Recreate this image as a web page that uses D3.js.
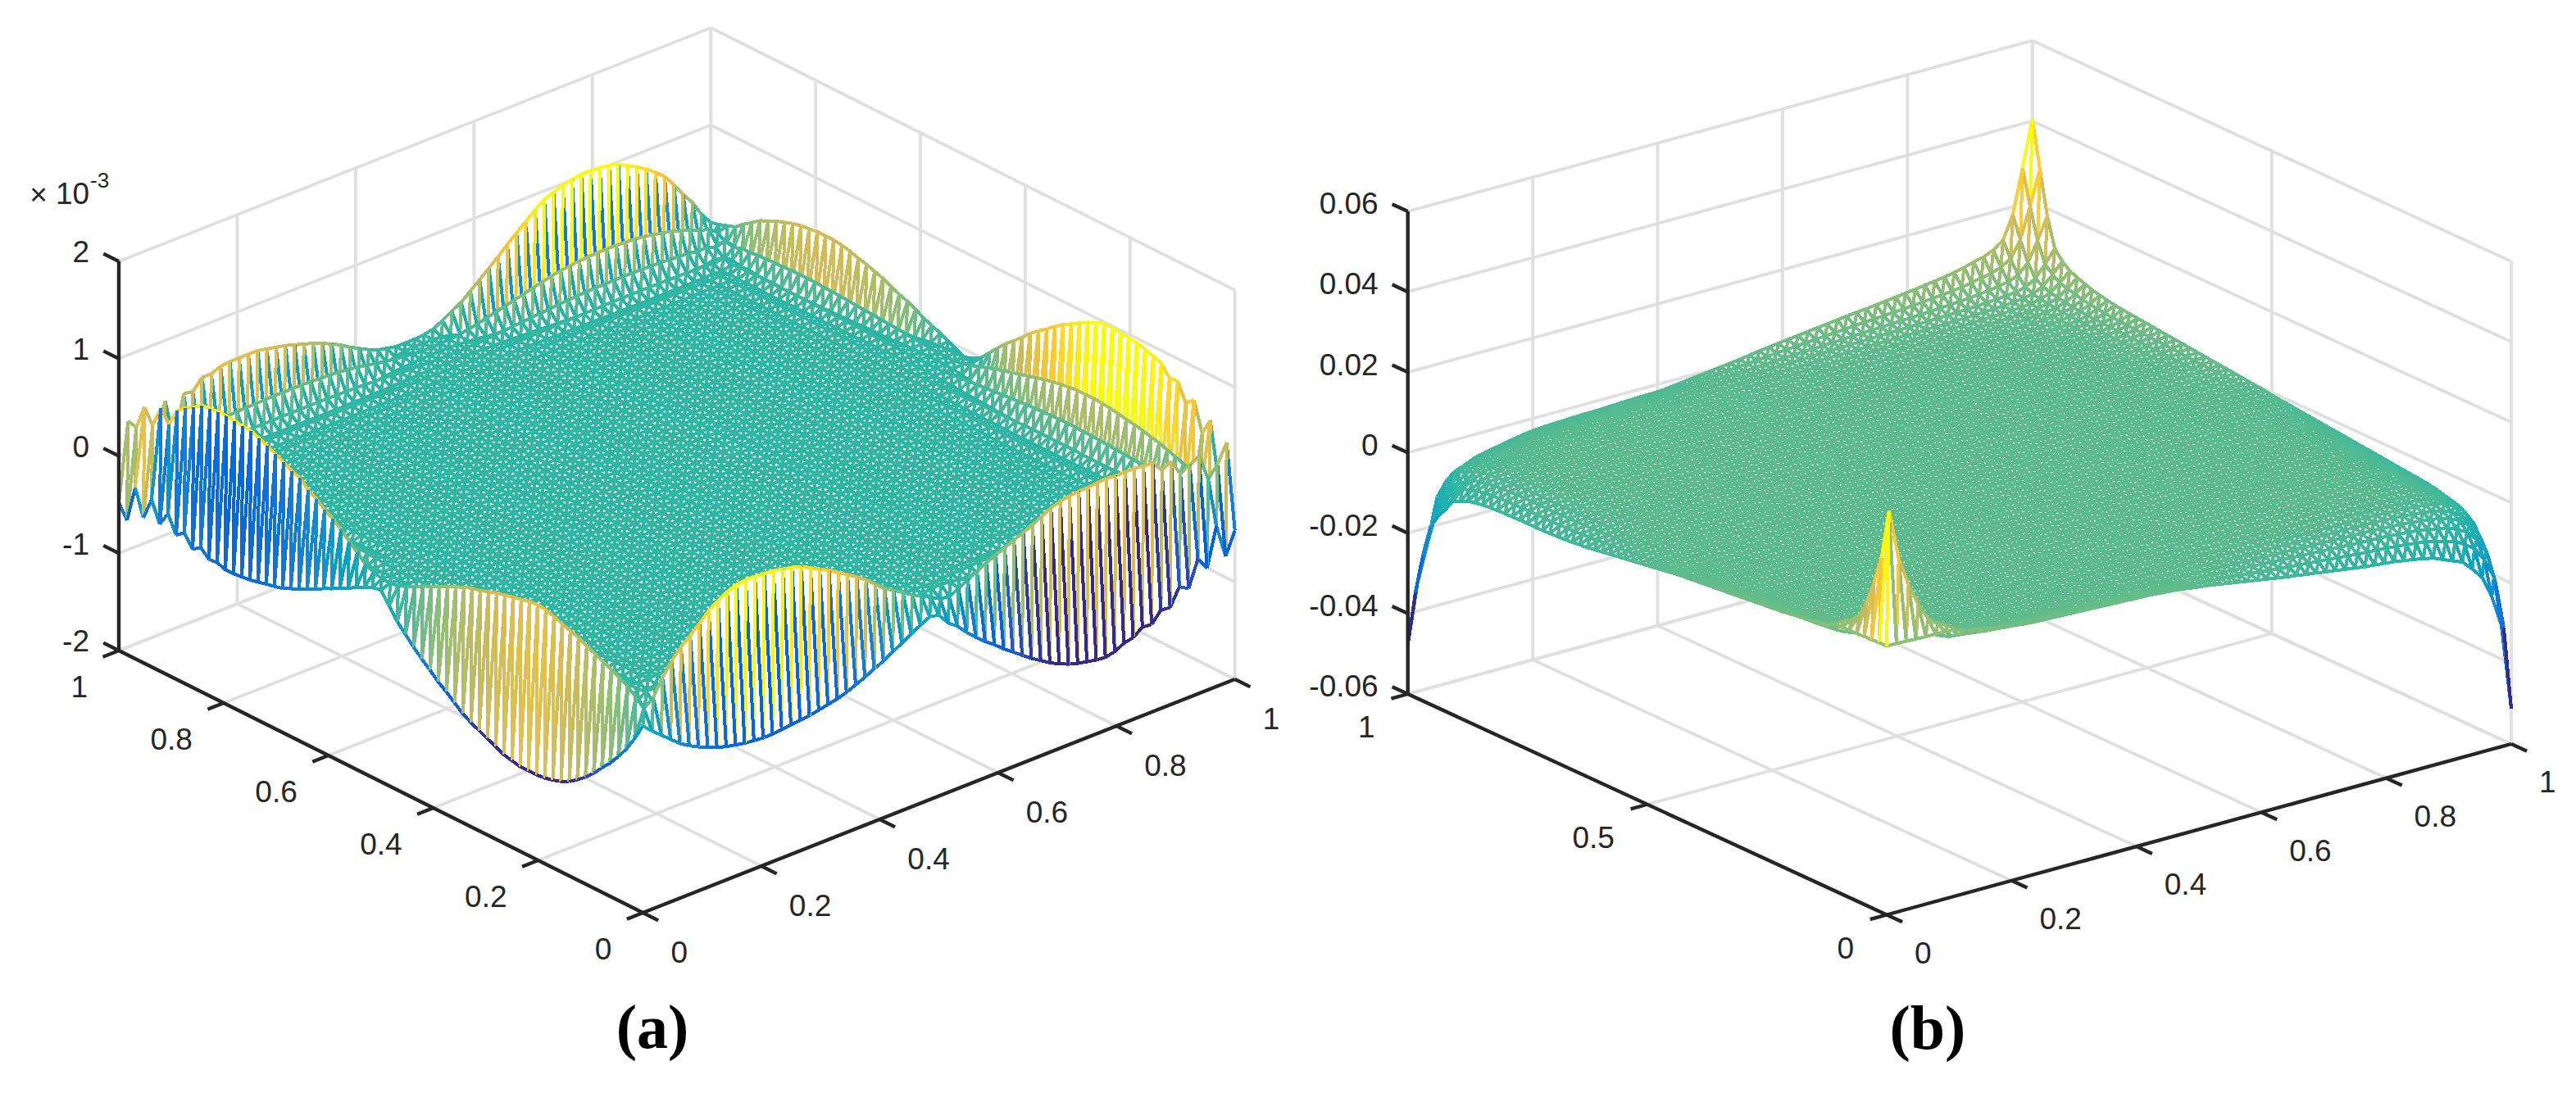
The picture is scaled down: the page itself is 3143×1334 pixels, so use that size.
<!DOCTYPE html>
<html>
<head>
<meta charset="utf-8">
<script src="https://d3js.org/d3.v7.min.js"></script>
<style>
  body { margin: 0; background: #fff; }
  text { font-family: "Liberation Sans", Arial, sans-serif; fill: #262626; }
</style>
</head>
<body>
<div id="my_dataviz"></div>
<script>

// ---- panel (a) heights, x 10^-3, one value per mesh vertex along each edge
// front edge (y = 0), x going 0 -> 1
var aFrontOuter = [-.08,-.17,-.25,-.33,-.41,-.47,-.52,-.56,-.60,-.63,
  -.65,-.67,-.68,-.69,-.69,-.68,-.67,-.66,-.65,-.63,
  -.61,-.59,-.56,-.52,-.48,-.43,-.39,-.33,-.28,-.22,
  -.17,-.12,-.14,-.26,-.33,-.43,-.52,-.60,-.67,-.75,
  -.82,-.89,-.96,-1.02,-1.08,-1.13,-1.17,-1.20,-1.22,-1.24,
  -1.25,-1.23,-1.18,-1.16,-1.09,-1.10,-.99,-1.00,-.825,-.88,
  -.615,-.745,-.35,-.70,-.47];
var aFrontInner = [0,0,.10,.26,.40,.50,.58,.67,.76,.83,
  .88,.92,.93,.93,.92,.91,.89,.87,.84,.79,
  .74,.69,.63,.57,.51,.44,.36,.28,.22,.16,
  .10,.05,0,-.05,-.07,-.02,.03,.08,.13,.17,
  .21,.25,.29,.33,.38,.43,.46,.48,.49,.49,
  .50,.51,.50,.50,.50,.49,.48,.37,.42,.26,
  .30,.38,.06,.25,0];
// left edge (x = 0), y going 0 -> 1
var aLeftOuter = [0,-.25,-.40,-.52,-.63,-.72,-.82,-.90,-.97,-1.03,
  -1.07,-1.10,-1.12,-1.13,-1.13,-1.13,-1.11,-1.09,-1.05,-1.01,
  -.97,-.93,-.88,-.81,-.74,-.68,-.60,-.53,-.45,-.36,
  -.27,-.15,-.03,-.05,-.09,-.13,-.18,-.22,-.27,-.31,
  -.36,-.40,-.44,-.48,-.52,-.54,-.56,-.58,-.60,-.61,
  -.62,-.62,-.59,-.60,-.52,-.58,-.45,-.52,-.34,-.49,
  -.28,-.51,-.24,-.62,-.48];
var aLeftInner = [0,.02,.10,.16,.21,.25,.29,.33,.37,.41,
  .44,.47,.50,.53,.54,.53,.51,.49,.47,.45,
  .42,.39,.37,.34,.30,.26,.22,.18,.14,.09,
  .05,.02,0,.01,.03,.07,.15,.22,.30,.37,
  .42,.49,.54,.62,.65,.70,.74,.78,.82,.85,
  .86,.87,.88,.88,.87,.86,.80,.75,.68,.50,
  .62,.40,.55,.30,0];
// back edge (y = 1), x going 0 -> 1
var aBackOuter = [0,.32,-.18,.34,0,.38,-.09,.38,.36,.47,
  .47,.51,.52,.52,.52,.52,.50,.48,.46,.43,
  .40,.37,.33,.29,.24,.18,.13,.08,.04,.02,
  0,0,0,.01,.03,.08,.14,.19,.27,.35,
  .43,.51,.60,.68,.76,.84,.91,.95,.98,1.00,
  1.02,1.02,1.01,1.00,.97,.92,.87,.81,.74,.66,
  .54,.40,.28,.12,0];
var aBackInner = [0,0,-.02,-.05,-.08,-.10,-.12,-.14,-.16,-.18,
  -.20,-.21,-.22,-.22,-.23,-.23,-.23,-.23,-.23,-.23,
  -.22,-.21,-.20,-.18,-.16,-.13,-.10,-.07,-.05,-.03,
  -.01,0,0,0,-.01,-.03,-.06,-.09,-.13,-.17,
  -.21,-.25,-.29,-.33,-.37,-.41,-.44,-.46,-.48,-.49,
  -.50,-.50,-.50,-.49,-.48,-.46,-.43,-.40,-.36,-.31,
  -.26,-.20,-.13,-.06,0];
// right edge (x = 1), y going 0 -> 1
var aRightOuter = [0,.39,-.04,.53,.36,.66,.585,.77,.76,.87,
  .90,.93,.95,.96,.97,.98,.98,.95,.91,.86,
  .81,.76,.70,.63,.57,.50,.42,.34,.27,.18,
  .09,0,-.05,-.08,-.04,0,.04,.08,.11,.16,
  .20,.23,.27,.31,.34,.37,.39,.42,.44,.45,
  .45,.45,.44,.43,.41,.38,.35,.31,.27,.21,
  .15,.08,.05,.02,0];
var aRightInner = [0,-.05,-.10,-.15,-.20,-.25,-.30,-.35,-.38,-.42,
  -.45,-.47,-.50,-.52,-.54,-.55,-.55,-.55,-.53,-.51,
  -.48,-.45,-.41,-.37,-.33,-.29,-.25,-.21,-.16,-.11,
  -.06,-.02,0,0,0,-.01,-.02,-.03,-.05,-.06,
  -.07,-.08,-.09,-.10,-.11,-.12,-.13,-.14,-.14,-.15,
  -.15,-.15,-.15,-.14,-.14,-.13,-.12,-.11,-.09,-.07,
  -.05,-.03,-.02,-.01,0];
// share of the inner row left in the rows behind it
var aFrontFade = [-.25,.1,-.04,.02];
var aBackFade = [-.6,.36,-.2,.12,-.07,.04,-.02,.01];

// ---- panel (b) heights along the edges
var bFront = [.0068,.0068,.0067,.0066,.0065,.0065,.0064,.0063,.0052,.0048,
  .0044,.004,.0037,.0033,.003,.0028,.0027,.0026,.0025,.0024,
  .0023,.0022,.0021,.002,.0019,.0018,.0017,.0016,.0014,.0012,
  .001,.0006,.0003,0,-.0004,-.0008,-.0012,-.0016,-.002,-.0024,
  -.0028,-.0032,-.0035,-.0039,-.0042,-.0046,-.0049,-.0053,-.0056,-.006,
  -.0062,-.0065,-.0067,-.007,-.0072,-.0075,-.0077,-.0082,-.0087,-.0089,
  -.01,-.0104,-.0123,-.0141,-.0256];
var bLeft = [.0068,.0068,.0067,.0066,.0065,.0065,.0064,.0063,.005,.0048,
  .0045,.0042,.004,.0037,.0034,.0032,.003,.0028,.0026,.0024,
  .0022,.002,.0018,.0016,.0014,.0012,.001,.0008,.0006,.0003,
  0,-.0003,-.0006,-.0009,-.0012,-.0015,-.0018,-.0021,-.0024,-.0027,
  -.003,-.0032,-.0034,-.0036,-.0037,-.0038,-.0039,-.0039,-.0039,-.0039,
  -.004,-.004,-.0041,-.0041,-.0042,-.0043,-.0045,-.005,-.0053,-.0075,
  -.0089,-.0103,-.0149,-.0192,-.0239];
var bBack = [-.0239,-.0182,-.0149,-.0073,-.0059,-.006,-.0051,-.0048,-.0045,-.0042,
  -.0039,-.0036,-.0033,-.003,-.0028,-.0027,-.0026,-.0025,-.0024,-.0024,
  -.0023,-.0022,-.0021,-.002,-.0019,-.0019,-.0018,-.0015,-.0012,-.0009,
  -.0006,-.0003,0,.0003,.0006,.001,.0014,.0017,.002,.0023,
  .0026,.0029,.0032,.0035,.0038,.0041,.0044,.0046,.0049,.0052,
  .0055,.0058,.0061,.0064,.0066,.0068,.007,.0072,.0075,.0075,
  .0075,.0075,.0103,.0164,.0203];
var bRight = [-.0256,-.016,-.0128,-.0104,-.0091,-.0069,-.0062,-.0059,-.0056,-.0053,
  -.005,-.0048,-.0047,-.0045,-.0043,-.0041,-.0039,-.0037,-.0035,-.0033,
  -.0031,-.0029,-.0027,-.0025,-.0023,-.0021,-.0019,-.0017,-.0015,-.0013,
  -.0011,-.0009,-.0007,-.0004,-.0002,0,.0002,.0004,.0006,.0008,
  .001,.0012,.0014,.0016,.0018,.002,.0022,.0024,.0026,.0028,
  .003,.0032,.0034,.0036,.0038,.004,.0042,.0045,.0048,.005,
  .0055,.006,.0103,.0164,.0203];
var bFade = [1,.62,.38,.24,.15,.1,.07,.05,.03,.02,.01,.005];
// the spike next to the front corner, read directly, i and j from 0 to 7
var bFrontPeak = [
  [.0068,.0068,.0067,.0066,.0065,.0065,.0064,.0063],
  [.0068,.039,.0264,.0193,.0136,.0095,.0075,.0065],
  [.0067,.0264,.0218,.017,.0125,.0095,.0075,.006],
  [.0066,.0193,.017,.0136,.0105,.0085,.0065,.0055],
  [.0065,.0136,.0125,.0105,.0085,.007,.0055,.0045],
  [.0065,.0095,.0095,.0085,.007,.0055,.0045,.0035],
  [.0064,.0075,.0075,.0065,.0055,.0045,.0035,.0025],
  [.0063,.0065,.006,.0055,.0045,.0035,.0025,.002]];

// ---- ticks
var aXTicks = [0,.2,.4,.6,.8,1], aXLabels = ["0","0.2","0.4","0.6","0.8","1"];
var aYTicks = [0,.2,.4,.6,.8,1], aYLabels = ["0","0.2","0.4","0.6","0.8","1"];
var aZTicks = [-2,-1,0,1,2], aZLabels = ["-2","-1","0","1","2"];
var bXTicks = [0,.2,.4,.6,.8,1], bXLabels = ["0","0.2","0.4","0.6","0.8","1"];
var bYTicks = [0,.5,1], bYLabels = ["0","0.5","1"];
var bZTicks = [-.06,-.04,-.02,0,.02,.04,.06], bZLabels = ["-0.06","-0.04","-0.02","0","0.02","0.04","0.06"];

// parula, sampled
var parula = ["#352a87","#2059cf","#035fe1","#1481d6","#06a0c6","#2eb7a4","#87bf77","#d1bb59","#fec832","#f9fb0e"];
var parulaPos = [0,.095,.127,.254,.38,.5,.62,.75,.87,1];

var width = 3143, height = 1334;
var svg = d3.select("#my_dataviz").append("svg")
    .attr("width", width).attr("height", height)
    .style("display", "block");

var colorRamp = d3.scaleLinear().domain(parulaPos).range(parula);

function drawPanel(c) {
  var g = svg.append("g");

  // oblique projection, every screen offset comes from one of these scales
  var xToSx = d3.scaleLinear().domain([0,1]).range([0, c.right[0]-c.front[0]]);
  var xToSy = d3.scaleLinear().domain([0,1]).range([0, c.right[1]-c.front[1]]);
  var yToSx = d3.scaleLinear().domain([0,1]).range([0, c.left[0]-c.front[0]]);
  var yToSy = d3.scaleLinear().domain([0,1]).range([0, c.left[1]-c.front[1]]);
  var zToSy = d3.scaleLinear().domain(c.zDomain).range([0, -c.zHeight]);
  function px(x,y) { return c.front[0] + xToSx(x) + yToSx(y); }
  function py(x,y,z) { return c.front[1] + xToSy(x) + yToSy(y) + zToSy(z); }

  function seg(x1,y1,z1,x2,y2,z2,color,w) {
    g.append("line")
      .attr("x1",px(x1,y1)).attr("y1",py(x1,y1,z1))
      .attr("x2",px(x2,y2)).attr("y2",py(x2,y2,z2))
      .attr("stroke",color).attr("stroke-width",w);
  }

  var zMin = c.zDomain[0], zMax = c.zDomain[1];

  // walls and floor grid
  c.xTicks.forEach(function(t) {
    seg(t,0,zMin,t,1,zMin,"#dfdfdf",3.8);
    seg(t,1,zMin,t,1,zMax,"#dfdfdf",3.8);
  });
  c.yTicks.forEach(function(t) {
    seg(0,t,zMin,1,t,zMin,"#dfdfdf",3.8);
    seg(1,t,zMin,1,t,zMax,"#dfdfdf",3.8);
  });
  c.zTicks.forEach(function(t) {
    seg(0,1,t,1,1,t,"#dfdfdf",3.8);
    seg(1,0,t,1,1,t,"#dfdfdf",3.8);
  });

  // mesh, far cells first so the white facets hide what is behind them
  var n = c.cells;
  var color = function(z) { return colorRamp(c.colorT(z)); };
  var mesh = g.append("g").attr("shape-rendering","crispEdges");
  function sx(i,j) { return px(i/n,j/n); }
  function sy(i,j) { return py(i/n,j/n,c.height(i,j)); }
  function tri(a,b,d) {
    mesh.append("path")
      .attr("d","M"+sx(a[0],a[1])+","+sy(a[0],a[1])+"L"+sx(b[0],b[1])+","+sy(b[0],b[1])+"L"+sx(d[0],d[1])+","+sy(d[0],d[1])+"Z")
      .attr("fill","#fff");
    [[a,b],[b,d],[d,a]].forEach(function(e) {
      // colour of an edge is the colour of its first vertex, unless the panel says otherwise
      var from = c.edgeFrom ? c.edgeFrom(e[0],e[1]) : e[0];
      mesh.append("line")
        .attr("x1",sx(e[0][0],e[0][1])).attr("y1",sy(e[0][0],e[0][1]))
        .attr("x2",sx(e[1][0],e[1][1])).attr("y2",sy(e[1][0],e[1][1]))
        .attr("stroke",color(c.height(from[0],from[1])))
        .attr("stroke-width",c.meshWidth);
    });
  }
  for (var i = n-1; i >= 0; i--) {
    for (var j = n-1; j >= 0; j--) {
      tri([i,j],[i+1,j+1],[i,j+1]);
      tri([i,j],[i+1,j],[i+1,j+1]);
    }
  }

  // the three black axes with their ticks
  var axisColor = "#262626";
  seg(0,0,zMin,1,0,zMin,axisColor,4.4);
  seg(0,0,zMin,0,1,zMin,axisColor,4.4);
  seg(0,1,zMin,0,1,zMax,axisColor,4.4);

  var tickLen = 21;
  var xLen = Math.hypot(c.right[0]-c.front[0], c.right[1]-c.front[1]);
  var yLen = Math.hypot(c.left[0]-c.front[0], c.left[1]-c.front[1]);
  var xUnit = [(c.right[0]-c.front[0])/xLen, (c.right[1]-c.front[1])/xLen];
  var yUnit = [(c.left[0]-c.front[0])/yLen, (c.left[1]-c.front[1])/yLen];

  function tick(x,y,z,dir) {
    var a = px(x,y), b = py(x,y,z);
    g.append("line").attr("x1",a).attr("y1",b)
      .attr("x2",a+dir[0]*tickLen).attr("y2",b+dir[1]*tickLen)
      .attr("stroke",axisColor).attr("stroke-width",4.4);
  }
  function label(x,y,anchor,s) {
    g.append("text").attr("x",x).attr("y",y).attr("dy",".36em")
      .attr("text-anchor",anchor).style("font-size",c.fontSize+"px").text(s);
  }

  c.xTicks.forEach(function(t,k) {
    tick(t,0,zMin,[-yUnit[0],-yUnit[1]]);
    label(px(t,0)+c.xOff[0], py(t,0,zMin)+c.xOff[1], "start", c.xLabels[k]);
  });
  c.yTicks.forEach(function(t,k) {
    tick(0,t,zMin,[-xUnit[0],-xUnit[1]]);
    label(px(0,t)+c.yOff[0], py(0,t,zMin)+c.yOff[1], "end", c.yLabels[k]);
  });
  c.zTicks.forEach(function(t,k) {
    tick(0,1,t,yUnit);
    label(px(0,1)+c.zOff[0], py(0,1,t)+c.zOff[1], "end", c.zLabels[k]);
  });

  // (a) / (b)
  g.append("text").attr("x",c.capX).attr("y",c.capY).attr("text-anchor","middle")
    .style("font-family","'Liberation Serif', serif").style("font-weight","bold")
    .style("font-size","76px").style("fill","#000")
    .text("(" + c.caption + ")");
}

function rowValue(outer, inner, fade, k, d) {
  if (d == 0) return outer[k];
  if (d == 1) return inner[k];
  return d-2 < fade.length ? inner[k]*fade[d-2] : 0;
}

var aColor = d3.scaleLinear()
  .domain([-1.1,-.93,-.77,-.62,0,.5,.68,.95])
  .range([0,.04,.12,.16,.5,.78,.86,1]).clamp(true);
var bColor = d3.scaleLinear().domain([-.048,0,.04]).range([0,.56,1]).clamp(true);

drawPanel({
  front:[784.4,1114], right:[1506.7,829], left:[145,794], zDomain:[-2,2], zHeight:475,
  cells:64, meshWidth:4, fontSize:37,
  xTicks:aXTicks, xLabels:aXLabels, yTicks:aYTicks, yLabels:aYLabels, zTicks:aZTicks, zLabels:aZLabels,
  xOff:[34,48], yOff:[-38,44], zOff:[-36,-12],
  capX:796, capY:1279, caption:"a",
  colorT:aColor,
  // bars of the far half of the left edge take the colour of the outer row
  edgeFrom:function(p,q) {
    if (p[0]+q[0] == 1 && Math.min(p[1],q[1]) >= 32 && Math.max(p[1],q[1]) <= 60) return p[0] == 0 ? p : q;
    return p;
  },
  height:function(i,j) {
    return rowValue(aFrontOuter,aFrontInner,aFrontFade,i,j)
      + rowValue(aBackOuter,aBackInner,aBackFade,i,64-j)
      + rowValue(aLeftOuter,aLeftInner,aFrontFade,j,i)
      + rowValue(aRightOuter,aRightInner,aBackFade,j,64-i);
  }
});

drawPanel({
  front:[2302,1116.5], right:[3064,908], left:[1717.7,847], zDomain:[-.06,.06], zHeight:589,
  cells:64, meshWidth:4, fontSize:37,
  xTicks:bXTicks, xLabels:bXLabels, yTicks:bYTicks, yLabels:bYLabels, zTicks:bZTicks, zLabels:bZLabels,
  xOff:[34,46], yOff:[-40,40], zOff:[-36,-10],
  capX:2352, capY:1280, caption:"b",
  colorT:bColor,
  height:function(i,j) {
    if (i < 8 && j < 8) return bFrontPeak[i][j];
    function f(d) { return d < bFade.length ? bFade[d] : 0; }
    return bFront[i]*f(j) + bBack[i]*f(64-j) + bLeft[j]*f(i) + bRight[j]*f(64-i);
  }
});

// multiplier above the z axis of panel (a)
var mult = svg.append("g");
mult.append("text").attr("x",47).attr("y",250).attr("text-anchor","middle").style("font-size","37px").text("×");
mult.append("text").attr("x",68).attr("y",249).style("font-size","37px").text("10");
mult.append("text").attr("x",110).attr("y",229).style("font-size","26px").text("-3");

</script>
</body>
</html>
